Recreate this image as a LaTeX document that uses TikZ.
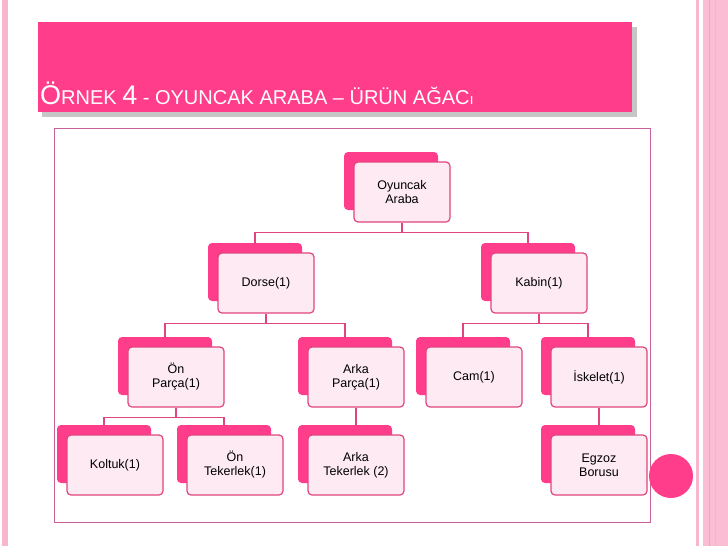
\documentclass[tikz,border=0pt]{standalone}
\usepackage{fontspec}
\setmainfont{Liberation Sans}
\definecolor{pk}{HTML}{FF3D8B}
\definecolor{pkb}{HTML}{E0457F}
\definecolor{pkf}{HTML}{FDEAF2}
\definecolor{lp}{HTML}{F9B6CF}
\definecolor{bx}{HTML}{C8609A}
\tikzset{
  front/.style={draw=pkb,line width=1.2pt,fill=pkf,rounded corners=4pt,minimum width=96pt,minimum height=60pt,align=center,inner sep=1pt,font=\fontsize{12.5}{14}\selectfont},
  back/.style={fill=pk,rounded corners=4pt,minimum width=94pt,minimum height=58pt,inner sep=0pt},
  conn/.style={draw=pkb,line width=1.1pt}
}
\newcommand\mkn[4]{%
  \node[back] (#1-b) at (#2-11,#3-11) {};
  \node[front] (#1) at (#2,#3) {#4};}
\begin{document}
\begin{tikzpicture}[x=1pt,y=-1pt]
\useasboundingbox (0,0) rectangle (728,546);
\fill[white] (0,0) rectangle (728,546);
% stripes
\fill[lp] (2,0) rectangle (8,546);
\fill[lp] (696,0) rectangle (699,546);
\fill[lp!90] (703,0) rectangle (728,546);
\draw[pkb!50,line width=1pt] (709,0) -- (709,546);
\draw[pkb!40,line width=1pt] (715,0) -- (715,546);
% title
\fill[gray!45] (42,27) rectangle (637,117);
\fill[pk] (38,22) rectangle (632,112);
\node[anchor=base west,text=white,inner sep=0pt] (title) at (40,104)
 {\fontsize{27}{30}\selectfont Ö\fontsize{20}{24}\selectfont RNEK \fontsize{27}{30}\selectfont 4\fontsize{20}{24}\selectfont{} - OYUNCAK ARABA – ÜRÜN AĞAC\fontsize{15}{18}\selectfont ı};
% content box
\draw[bx,line width=0.8pt] (54,128) rectangle (650,522);
% nodes
\mkn{oa}{402}{192}{Oyuncak\\Araba}
\mkn{do}{266}{283}{Dorse(1)}
\mkn{ka}{539}{283}{Kabin(1)}
\mkn{op}{176}{377}{Ön\\Parça(1)}
\mkn{ap}{356}{377}{Arka\\Parça(1)}
\mkn{ca}{474}{377}{Cam(1)}
\mkn{is}{599}{377}{İskelet(1)}
\mkn{ko}{115}{465}{Koltuk(1)}
\mkn{ot}{235}{465}{Ön\\Tekerlek(1)}
\mkn{at}{356}{465}{Arka\\Tekerlek (2)}
\mkn{eg}{599}{465}{Egzoz\\Borusu}
% connectors
\draw[conn] (oa.south) -- ++(0,10) -| (do-b.north);
\draw[conn] (oa.south) -- ++(0,10) -| (ka-b.north);
\draw[conn] (do.south) -- ++(0,10) -| (op-b.north);
\draw[conn] (do.south) -- ++(0,10) -| (ap-b.north);
\draw[conn] (ka.south) -- ++(0,10) -| (ca-b.north);
\draw[conn] (ka.south) -- ++(0,10) -| (is-b.north);
\draw[conn] (op.south) -- ++(0,10) -| (ko-b.north);
\draw[conn] (op.south) -- ++(0,10) -| (ot-b.north);
\draw[conn] (ap.south) -- (ap.south |- at-b.north);
\draw[conn] (is.south) -- (is.south |- eg-b.north);
% circle
\fill[pk] (671,476) circle (22);
\end{tikzpicture}
\end{document}
